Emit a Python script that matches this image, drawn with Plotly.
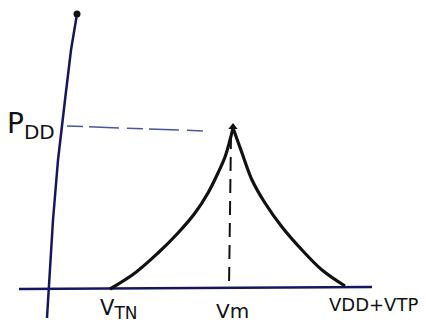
import plotly.graph_objects as go

# Power vs. input voltage sketch for an inverter (short-circuit power peak at Vm)
# Coordinates are in a simple drawing frame: x to the right, y upward.

# rising branch: V_TN -> Vm
rise_x = [110, 135, 158, 178, 195, 208, 218, 225, 230, 233]
rise_y = [35, 51, 71, 91, 111, 131, 151, 167, 184, 196]

# falling branch: Vm -> VDD+VTP
fall_x = [233, 242, 252, 265, 282, 302, 322, 345]
fall_y = [196, 171, 144, 121, 97, 74, 54, 38]

# axes (hand-drawn, slightly slanted)
vaxis_x = [77, 71, 65, 58, 53, 49, 47]
vaxis_y = [310, 274, 224, 164, 104, 36, 6]
haxis_x = [19, 372]
haxis_y = [35, 37]

# guide lines to the peak
peak_level_x = [67, 205]
peak_level_y = [198, 193]
peak_drop_x = [231, 229]
peak_drop_y = [189, 36]

# labels
tick_labels = ["V<sub><span style='font-size:17px'>TN</span></sub>", "Vm", "VDD+VTP"]
tick_x = [118, 232, 373]
tick_y = [15, 13, 20]
tick_sizes = [21, 20, 18]
level_label = "P<sub><span style='font-size:20px'>DD</span></sub>"

ink = "#111111"
navy = "#16165e"

fig = go.Figure()

fig.add_trace(go.Scatter(x=vaxis_x, y=vaxis_y, mode="lines",
                         line=dict(color=navy, width=2.5),
                         hoverinfo="skip"))
fig.add_trace(go.Scatter(x=haxis_x, y=haxis_y, mode="lines",
                         line=dict(color=navy, width=2.5), hoverinfo="skip"))
fig.add_trace(go.Scatter(x=[vaxis_x[0]], y=[vaxis_y[0]], mode="markers",
                         marker=dict(color=ink, size=7), hoverinfo="skip"))

fig.add_trace(go.Scatter(x=peak_level_x, y=peak_level_y, mode="lines",
                         line=dict(color="#2a3a8a", width=1.5, dash="16px,6px,30px,8px"),
                         opacity=0.85, hoverinfo="skip"))
fig.add_trace(go.Scatter(x=peak_drop_x, y=peak_drop_y, mode="lines",
                         line=dict(color=ink, width=2, dash="14px,8px"),
                         hoverinfo="skip"))

fig.add_trace(go.Scatter(x=rise_x, y=rise_y, mode="lines",
                         line=dict(color=ink, width=3.2, shape="spline"),
                         hoverinfo="skip"))
fig.add_trace(go.Scatter(x=fall_x, y=fall_y, mode="lines",
                         line=dict(color=ink, width=3.2, shape="spline"),
                         hoverinfo="skip"))
fig.add_trace(go.Scatter(x=[rise_x[-1]], y=[rise_y[-1] + 1], mode="markers",
                         marker=dict(color=ink, size=8, symbol="triangle-up"),
                         hoverinfo="skip"))

for label, x, y, s in zip(tick_labels, tick_x, tick_y, tick_sizes):
    fig.add_annotation(x=x, y=y, text=label, showarrow=False,
                       font=dict(family="DejaVu Sans", size=s, color=ink))
fig.add_annotation(x=31, y=199, text=level_label, showarrow=False,
                   font=dict(family="DejaVu Sans", size=28, color=ink))

fig.update_layout(
    width=426, height=324,
    margin=dict(l=0, r=0, t=0, b=0),
    paper_bgcolor="white", plot_bgcolor="white",
    showlegend=False,
    xaxis=dict(range=[0, 426], visible=False, fixedrange=True),
    yaxis=dict(range=[0, 324], visible=False, fixedrange=True),
)

fig.write_html("out.html")
